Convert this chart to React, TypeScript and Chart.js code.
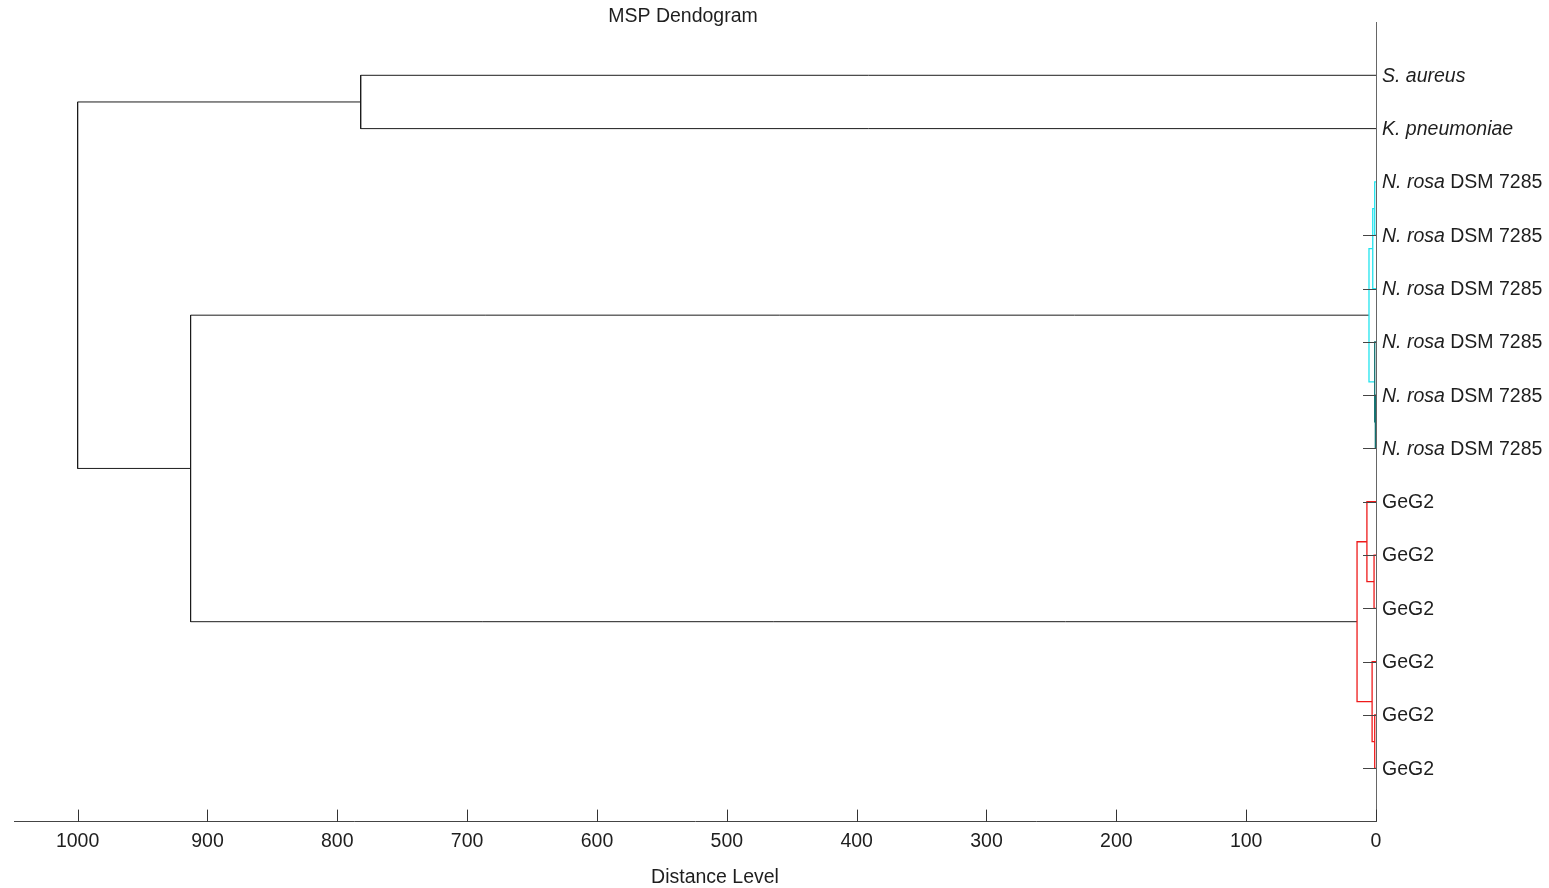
import React, { useEffect, useRef } from "react";
import { Chart, registerables } from "chart.js";

Chart.register(...registerables);

// ---------- data ----------
const leafItalic = [
  "S. aureus",
  "K. pneumoniae",
  "N. rosa",
  "N. rosa",
  "N. rosa",
  "N. rosa",
  "N. rosa",
  "N. rosa",
  "",
  "",
  "",
  "",
  "",
  "",
];
const leafPlain = [
  "",
  "",
  " DSM 7285",
  " DSM 7285",
  " DSM 7285",
  " DSM 7285",
  " DSM 7285",
  " DSM 7285",
  "GeG2",
  "GeG2",
  "GeG2",
  "GeG2",
  "GeG2",
  "GeG2",
];

// merges: node ids 0..13 are leaves, merge k creates node 14 + k
const mergeLeft = [2, 14, 6, 5, 15, 9, 8, 12, 11, 20, 0, 18, 24];
const mergeRight = [3, 4, 7, 16, 17, 10, 19, 13, 21, 22, 1, 23, 25];
const mergeHeight = [1.0, 2.5, 0.5, 1.0, 5.4, 1.5, 7.0, 1.0, 3.0, 14.6, 782, 913, 1000];
const mergeGroup = [
  "nrosa", "nrosa", "nrosaB", "nrosaB", "nrosa",
  "geg2", "geg2", "geg2", "geg2", "geg2",
  "top", "top", "top",
];

const xTickValues = [0, 100, 200, 300, 400, 500, 600, 700, 800, 900, 1000];
const xTickLabels = ["0", "100", "200", "300", "400", "500", "600", "700", "800", "900", "1000"];
const xAxisMax = 1049;
const stubLeaves = [3, 4, 5, 6, 7, 8, 9, 10, 11, 12, 13];
const stubDistance = 10;

const titleText = "MSP Dendogram";
const xAxisTitle = "Distance Level";

// ---------- styles ----------
const groupColor: Record<string, string> = {
  top: "#1c1c1c",
  nrosa: "#22e4ee",
  nrosaB: "#13706f",
  geg2: "#ee1a1a",
};
const FONT = "'Liberation Sans', Arial, sans-serif";
const FS = 19.5;
const TEXT = "#1e1e1e";

export default function App() {
  const ref = useRef<HTMLCanvasElement | null>(null);

  useEffect(() => {
    if (!ref.current) return;

    const nodeY: number[] = leafItalic.map((_, i) => i);
    const nodeH: number[] = leafItalic.map(() => 0);
    mergeLeft.forEach((l, k) => {
      const r = mergeRight[k];
      nodeY.push((nodeY[l] + nodeY[r]) / 2);
      nodeH.push(mergeHeight[k]);
    });

    const datasets = mergeLeft.map((l, k) => {
      const r = mergeRight[k];
      const h = mergeHeight[k];
      const g = mergeGroup[k];
      return {
        data: [
          { x: nodeH[l], y: nodeY[l] },
          { x: h, y: nodeY[l] },
          { x: h, y: nodeY[r] },
          { x: nodeH[r], y: nodeY[r] },
        ],
        showLine: true,
        borderColor: groupColor[g],
        borderWidth: g === "top" ? 1 : 1.3,
        pointRadius: 0,
        pointHoverRadius: 0,
        tension: 0,
        fill: false,
      };
    });

    const overlay = {
      id: "overlay",
      afterDraw(chart: any) {
        const ctx = chart.ctx as CanvasRenderingContext2D;
        const xs = chart.scales.x;
        const ys = chart.scales.y;
        const area = chart.chartArea;
        ctx.save();

        // tick marks pointing up
        ctx.strokeStyle = "#333";
        ctx.lineWidth = 1;
        xTickValues.forEach((v) => {
          const px = Math.round(xs.getPixelForValue(v)) + 0.5;
          ctx.beginPath();
          ctx.moveTo(px, area.bottom);
          ctx.lineTo(px, area.bottom - 12);
          ctx.stroke();
        });

        // leaf stubs
        ctx.strokeStyle = "#444";
        stubLeaves.forEach((i) => {
          const py = Math.round(ys.getPixelForValue(i)) + 0.5;
          ctx.beginPath();
          ctx.moveTo(xs.getPixelForValue(stubDistance), py);
          ctx.lineTo(xs.getPixelForValue(0), py);
          ctx.stroke();
        });

        // leaf labels
        ctx.fillStyle = TEXT;
        ctx.textBaseline = "middle";
        ctx.textAlign = "left";
        const x0 = xs.getPixelForValue(0) + 6;
        leafItalic.forEach((it, i) => {
          const py = ys.getPixelForValue(i) + 1;
          let x = x0;
          if (it) {
            ctx.font = `italic ${FS}px ${FONT}`;
            ctx.fillText(it, x, py);
            x += ctx.measureText(it).width;
          }
          if (leafPlain[i]) {
            ctx.font = `${FS}px ${FONT}`;
            ctx.fillText(leafPlain[i], x, py);
          }
        });

        // title and axis title
        ctx.font = `${FS}px ${FONT}`;
        ctx.textAlign = "center";
        ctx.fillText(titleText, 683, 17);
        ctx.fillText(xAxisTitle, 715, 878);
        ctx.restore();
      },
    };

    const chart = new Chart(ref.current, {
      type: "scatter",
      data: { datasets: datasets as any },
      options: {
        animation: false,
        responsive: true,
        maintainAspectRatio: false,
        layout: { padding: { left: 14, right: 173, top: 22, bottom: 27 } },
        plugins: {
          legend: { display: false },
          tooltip: { enabled: false },
          title: { display: false },
        },
        events: [],
        scales: {
          x: {
            type: "linear",
            reverse: true,
            min: 0,
            max: xAxisMax,
            afterBuildTicks: (scale: any) => {
              scale.ticks = xTickValues.map((v) => ({ value: v }));
            },
            ticks: {
              font: { size: FS, family: FONT },
              color: TEXT,
              padding: 8,
              maxRotation: 0,
              autoSkip: false,
              callback: (v: any) => {
                const i = xTickValues.indexOf(Number(v));
                return i >= 0 ? xTickLabels[i] : "";
              },
            },
            grid: { display: true, drawOnChartArea: false, drawTicks: false },
            border: { display: true, color: "#444", width: 1 },
          },
          y: {
            type: "linear",
            position: "right",
            reverse: true,
            min: -1,
            max: 14,
            ticks: { display: false },
            grid: { display: false, drawTicks: false },
            border: { display: true, color: "#666", width: 1 },
          },
        },
      },
      plugins: [overlay],
    });

    return () => chart.destroy();
  }, []);

  return (
    <div style={{ position: "fixed", left: 0, top: 0, width: 1549, height: 888, background: "#fff" }}>
      <canvas ref={ref} />
    </div>
  );
}
